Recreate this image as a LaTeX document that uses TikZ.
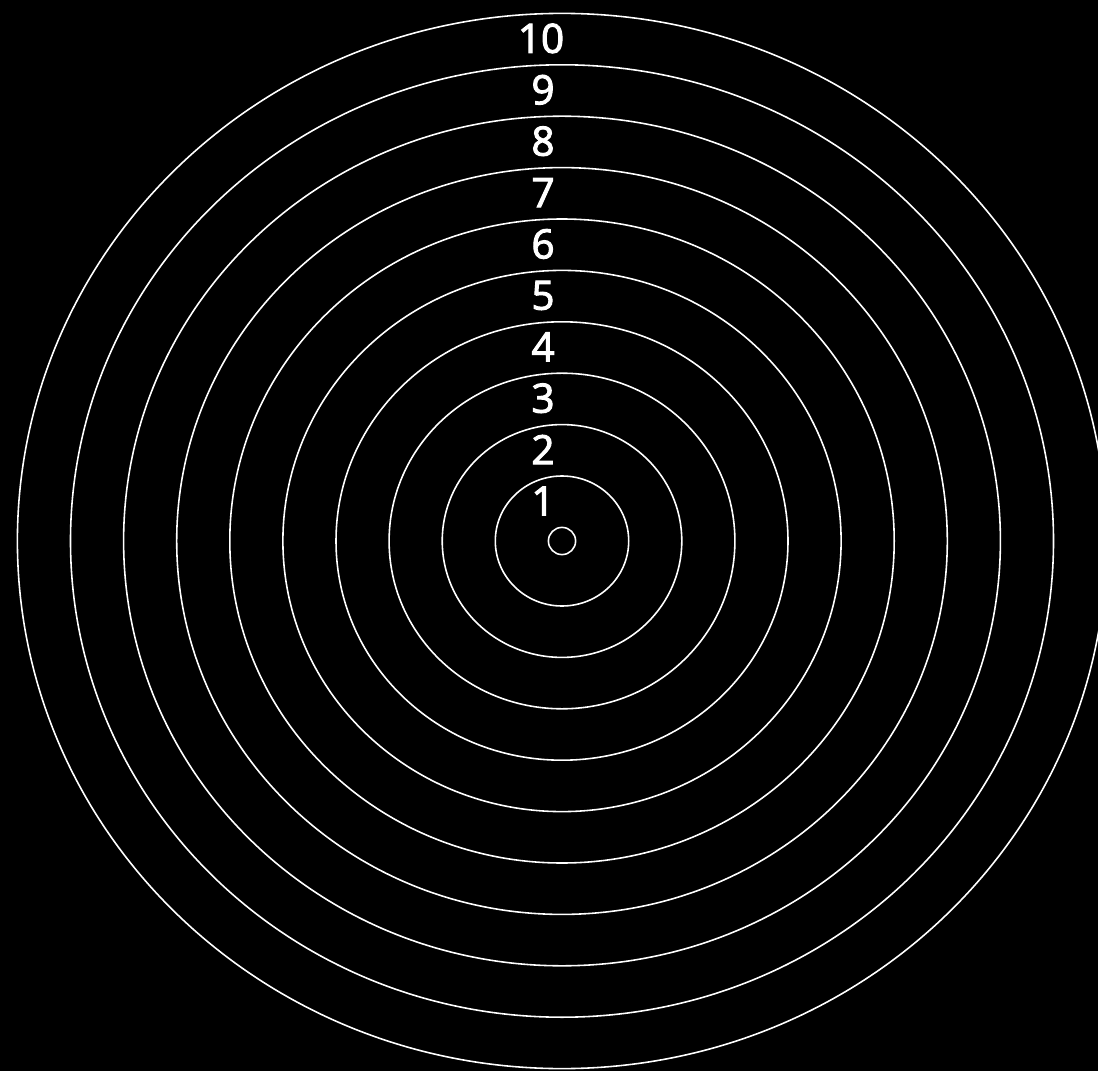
\documentclass[tikz,border=0pt]{standalone}
\usepackage{fontspec}
\setmainfont{Open Sans}
\newfontfamily\ringfont[FakeBold=2.5]{Open Sans}
\tikzset{
    ring/.style={draw=white, line width=0.45pt},
    ringnum/.style={text=white, inner sep=0pt, font=\ringfont\fontsize{11.5}{14}\selectfont}
}
\begin{document}
\begin{tikzpicture}
            \fill[black] (-5.62,-5.30) rectangle (5.36,5.41);
            \useasboundingbox (-5.62,-5.30) rectangle (5.36,5.41);
            \clip (-5.62,-5.30) rectangle (5.36,5.41);
            \coordinate (O) at (0,0);
            \draw[ring] (O) circle (0.136);
            \draw[ring] (O) ellipse (0.667 and 0.650);
            \draw[ring] (O) ellipse (1.198 and 1.164);
            \draw[ring] (O) ellipse (1.729 and 1.678);
            \draw[ring] (O) ellipse (2.260 and 2.192);
            \draw[ring] (O) ellipse (2.791 and 2.706);
            \draw[ring] (O) ellipse (3.322 and 3.220);
            \draw[ring] (O) ellipse (3.853 and 3.734);
            \draw[ring] (O) ellipse (4.384 and 4.248);
            \draw[ring] (O) ellipse (4.915 and 4.762);
            \draw[ring] (O) ellipse (5.446 and 5.276);
            \node[ringnum] (n1) at (-0.19,0.400) {1};
            \node[ringnum] (n2) at (-0.19,0.914) {2};
            \node[ringnum] (n3) at (-0.19,1.428) {3};
            \node[ringnum] (n4) at (-0.19,1.942) {4};
            \node[ringnum] (n5) at (-0.19,2.456) {5};
            \node[ringnum] (n6) at (-0.19,2.970) {6};
            \node[ringnum] (n7) at (-0.19,3.484) {7};
            \node[ringnum] (n8) at (-0.19,3.998) {8};
            \node[ringnum] (n9) at (-0.19,4.512) {9};
            \node[ringnum] (n10) at (-0.21,5.026) {10};
        \end{tikzpicture}
\end{document}
